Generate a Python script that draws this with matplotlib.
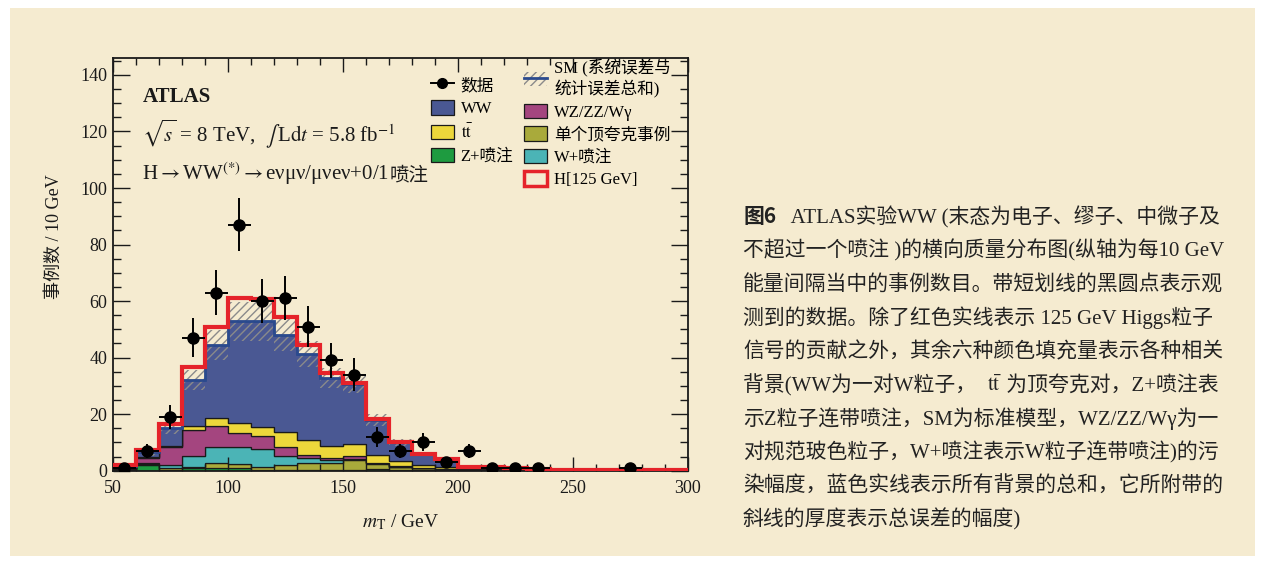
import numpy as np
import matplotlib
matplotlib.use('Agg')
import matplotlib.pyplot as plt
from matplotlib.patches import Patch, Rectangle
from matplotlib.lines import Line2D
from matplotlib.legend_handler import HandlerTuple
from matplotlib.ticker import MultipleLocator
from matplotlib.font_manager import FontProperties

plt.rcParams['mathtext.fontset'] = 'stix'
plt.rcParams['hatch.linewidth'] = 1.0
plt.rcParams['hatch.color'] = '#8a8a8a'

# ---------------- data ----------------
bin_edges = [50, 60, 70, 80, 90, 100, 110, 120, 130, 140, 150, 160, 170, 180, 190,
             200, 210, 220, 230, 240, 250, 260, 270, 280, 290, 300]

zjets = [0.3, 2.0, 0.3, 0.8, 0.8, 0.8, 0.3, 0.3, 0.2, 0.2, 0.2, 0.5, 0.3, 0.2, 0.1,
         0.05, 0.05, 0.03, 0.02, 0.0, 0.0, 0.0, 0.0, 0.0, 0.0]
single_top = [0.1, 0.3, 0.6, 0.6, 1.8, 1.6, 1.1, 1.7, 2.6, 2.5, 3.6, 1.9, 1.0, 0.6, 0.4,
              0.2, 0.15, 0.1, 0.08, 0.05, 0.04, 0.03, 0.03, 0.02, 0.02]
wjets = [0.2, 0.5, 1.1, 3.9, 5.7, 6.1, 6.3, 3.2, 1.6, 1.0, 0.5, 0.2, 0.1, 0.1, 0.1,
         0.05, 0.05, 0.03, 0.02, 0.0, 0.0, 0.0, 0.0, 0.0, 0.0]
wz_zz_wg = [0.3, 1.8, 6.3, 9.1, 7.5, 4.7, 4.6, 3.1, 1.1, 0.8, 0.8, 0.2, 0.1, 0.1, 0.1,
            0.05, 0.05, 0.04, 0.03, 0.02, 0.02, 0.02, 0.01, 0.01, 0.01]
ttbar = [0.1, 0.3, 0.6, 1.4, 2.7, 3.8, 3.3, 5.5, 5.4, 4.1, 4.2, 2.7, 2.0, 1.0, 0.5,
         0.3, 0.3, 0.2, 0.15, 0.1, 0.08, 0.07, 0.06, 0.05, 0.04]
ww = [0.5, 1.6, 6.1, 16.3, 26.0, 35.8, 37.2, 34.2, 30.4, 24.3, 21.4, 12.4, 6.5, 3.9, 2.9,
      0.75, 0.6, 0.4, 0.3, 0.23, 0.21, 0.18, 0.15, 0.12, 0.11]
higgs = [0.4, 0.8, 1.5, 4.5, 6.5, 8.2, 7.9, 6.3, 3.2, 1.6, 0.3, 0.3, 0.2, 0.1, 0.1,
         0.05, 0.05, 0.05, 0.02, 0.02, 0.02, 0.01, 0.01, 0.01, 0.01]
sm_err = [0.3, 1.2, 2.0, 3.5, 5.3, 7.0, 7.0, 5.5, 4.5, 3.5, 3.2, 2.0, 1.3, 0.8, 0.6,
          0.3, 0.25, 0.2, 0.15, 0.1, 0.08, 0.07, 0.06, 0.05, 0.04]
data = [1, 7, 19, 47, 63, 87, 60, 61, 51, 39, 34, 12, 7, 10, 3, 7, 1, 1, 1, 0, 0, 0, 1, 0, 0]
data_err = [1.0, 2.6, 4.4, 6.9, 7.9, 9.3, 7.7, 7.8, 7.1, 6.2, 5.8, 3.5, 2.6, 3.2, 1.7,
            2.6, 1.0, 1.0, 1.0, 0.0, 0.0, 0.0, 1.0, 0.0, 0.0]

labels_bkg = ['Z+喷注', '单个顶夸克事例', 'W+喷注', 'WZ/ZZ/Wγ', r'$\mathrm{t}\bar{\mathrm{t}}$', 'WW']
colors_bkg = ['#1E9B40', '#A9AA3B', '#4BB4B6', '#A4457F', '#EDD73B', '#4A5893']

caption_lines = [
    '不超过一个喷注 )的横向质量分布图(纵轴为每10 GeV',
    '能量间隔当中的事例数目。带短划线的黑圆点表示观',
    '测到的数据。除了红色实线表示 125 GeV Higgs粒子',
    '信号的贡献之外，其余六种颜色填充量表示各种相关',
]
caption_lines2 = [
    '示Z粒子连带喷注，SM为标准模型，WZ/ZZ/Wγ为一',
    '对规范玻色粒子，W+喷注表示W粒子连带喷注)的污',
    '染幅度，蓝色实线表示所有背景的总和，它所附带的',
    '斜线的厚度表示总误差的幅度)',
]

# ---------------- figure ----------------
W, H = 1265, 564
BG = '#F5EBD0'
INK = '#1a1a1a'
SERIF_CJK = ['Liberation Serif', 'Noto Sans CJK SC']

fig = plt.figure(figsize=(W / 100, H / 100), dpi=100, facecolor='white')
fig.patches.append(Rectangle((10 / W, 1 - 556 / H), 1245 / W, 548 / H,
                             transform=fig.transFigure, facecolor=BG, edgecolor='none', zorder=-10))


def fx(x):
    return x / W


def fy(y):
    return 1 - y / H


AX_L, AX_B, AX_W, AX_H = 112.7, 470.7, 575.3, 412.7
ax = fig.add_axes([fx(AX_L), fy(AX_B), AX_W / W, AX_H / H])
ax.set_facecolor(BG)


def ax_frac(x, y):
    return ((x - AX_L) / AX_W, (AX_B - y) / AX_H)


edges = np.array(bin_edges, dtype=float)
centers = 0.5 * (edges[:-1] + edges[1:])
layers = [np.array(v, dtype=float) for v in (zjets, single_top, wjets, wz_zz_wg, ttbar, ww)]

bottom = np.zeros(len(centers))
for vals, col in zip(layers, colors_bkg):
    top = bottom + vals
    ax.stairs(top, edges, baseline=bottom, fill=True, facecolor=col,
              edgecolor=INK, linewidth=0.9, zorder=1)
    bottom = top
sm = bottom
err = np.array(sm_err)

ax.stairs(sm + err, edges, baseline=sm - err, fill=True, facecolor='none',
          edgecolor='#8a8a8a', hatch='////', linewidth=0, zorder=2)
ax.stairs(sm, edges, color='#2A4A8E', linewidth=2.0, baseline=None, zorder=3)
ax.stairs(sm + np.array(higgs), edges, color='#E5232A', linewidth=3.0, baseline=None, zorder=4)

d = np.array(data, dtype=float)
de = np.array(data_err)
m = d > 0
ax.errorbar(centers[m], d[m], yerr=de[m], xerr=5, fmt='o', color='black', ms=8,
            elinewidth=1.4, capsize=0, zorder=6)

ax.set_xlim(50, 300)
ax.set_ylim(0, 146)
ax.xaxis.set_major_locator(MultipleLocator(50))
ax.xaxis.set_minor_locator(MultipleLocator(10))
ax.yaxis.set_major_locator(MultipleLocator(20))
ax.yaxis.set_minor_locator(MultipleLocator(5))
ax.tick_params(which='both', direction='in', top=True, right=True, width=1.0, colors=INK)
ax.tick_params(axis='y', which='major', length=12, pad=4)
ax.tick_params(axis='y', which='minor', length=6)
ax.tick_params(axis='x', which='major', length=10, pad=7)
ax.tick_params(axis='x', which='minor', length=5)
for lab in ax.get_xticklabels() + ax.get_yticklabels():
    lab.set_fontfamily('Liberation Serif')
    lab.set_fontsize(13)
    lab.set_color(INK)
for s in ax.spines.values():
    s.set_linewidth(1.3)
    s.set_color(INK)

ax.set_xlabel(r'$m_{\mathrm{T}}$ / GeV', family='Liberation Serif', fontsize=14, color=INK)
ax.xaxis.set_label_coords(0.5, -0.10)
ax.set_ylabel('事例数 / 10 GeV', family=SERIF_CJK, fontsize=13, color=INK)
ax.yaxis.set_label_coords(-0.087, 0.566)

# ---------------- legends ----------------
prop = FontProperties(family=SERIF_CJK, size=12)
leg_kw = dict(loc='upper left', frameon=False, prop=prop, handlelength=1.4, handleheight=0.95,
              handletextpad=0.4, labelspacing=0.38, borderpad=0, borderaxespad=0)
h_left = [Line2D([], [], color='black', marker='o', ms=7, lw=1.4),
          Patch(facecolor=colors_bkg[5], edgecolor=INK, lw=0.9),
          Patch(facecolor=colors_bkg[4], edgecolor=INK, lw=0.9),
          Patch(facecolor=colors_bkg[0], edgecolor=INK, lw=0.9)]
l_left = ['数据', 'WW', labels_bkg[4], 'Z+喷注']
leg1 = ax.legend(h_left, l_left, bbox_to_anchor=ax_frac(430.7, 77), **leg_kw)
ax.add_artist(leg1)

h_sm = (Patch(facecolor='none', edgecolor='#8a8a8a', hatch='////', lw=0),
        Line2D([], [], color='#2A4A8E', lw=2.0))
h_right = [h_sm,
           Patch(facecolor=colors_bkg[3], edgecolor=INK, lw=0.9),
           Patch(facecolor=colors_bkg[1], edgecolor=INK, lw=0.9),
           Patch(facecolor=colors_bkg[2], edgecolor=INK, lw=0.9),
           Patch(facecolor=BG, edgecolor='#E5232A', lw=2.5)]
l_right = ['SM (系统误差与\n统计误差总和)', 'WZ/ZZ/Wγ', '单个顶夸克事例', 'W+喷注', 'H[125 GeV]']
leg_kw_r = dict(leg_kw)
leg_kw_r['labelspacing'] = 0.34
leg2 = ax.legend(h_right, l_right, bbox_to_anchor=ax_frac(524, 59),
                 handler_map={tuple: HandlerTuple(ndivide=1, pad=0)}, **leg_kw_r)

# ---------------- annotations ----------------
renderer = fig.canvas.get_renderer()


def seg_line(x, y, segs):
    for s, kw in segs:
        t = fig.text(fx(x), fy(y), s, ha='left', va='baseline', **kw)
        bb = t.get_window_extent(renderer)
        x += bb.width


fig.text(fx(142.7), fy(101.7), 'ATLAS', family='Liberation Serif', fontweight='bold',
         fontsize=15, va='baseline', color=INK)
fig.text(fx(141.7), fy(141.7), r'$\sqrt{s}$ = 8 TeV,  $\int\,$L$\mathrm{d}t$ = 5.8 fb$^{-1}$',
         family='Liberation Serif', fontsize=15, va='baseline', color=INK)
seg_line(142, 180, [
    (r'H$\rightarrow$WW$^{(*)}$$\rightarrow$eνμν/μνeν+0/1', dict(family='Liberation Serif', fontsize=15, color=INK)),
    ('喷注', dict(family='Noto Sans CJK SC', fontsize=14, color=INK)),
])

# ---------------- caption ----------------
cap_kw = dict(family=SERIF_CJK, fontsize=15, color='#222222')
x0 = 743
y0 = 223
pitch = 33.6
seg_line(x0, y0, [('图6', dict(family='Noto Sans CJK SC', fontweight='bold', fontsize=15, color='#222222')),
                  ('   ATLAS实验WW (末态为电子、缪子、中微子及', cap_kw)])
for i, line in enumerate(caption_lines):
    fig.text(fx(x0), fy(y0 + pitch * (i + 1)), line, ha='left', va='baseline', **cap_kw)
seg_line(x0, y0 + pitch * 5, [('背景(WW为一对W粒子，  ', cap_kw),
                              (r'$\mathrm{t}\bar{\mathrm{t}}$', dict(family='Liberation Serif', fontsize=15, color='#222222')),
                              (' 为顶夸克对，Z+喷注表', cap_kw)])
for i, line in enumerate(caption_lines2):
    fig.text(fx(x0), fy(y0 + pitch * (i + 6)), line, ha='left', va='baseline', **cap_kw)

fig.savefig('out.png', dpi=100, facecolor=fig.get_facecolor())
